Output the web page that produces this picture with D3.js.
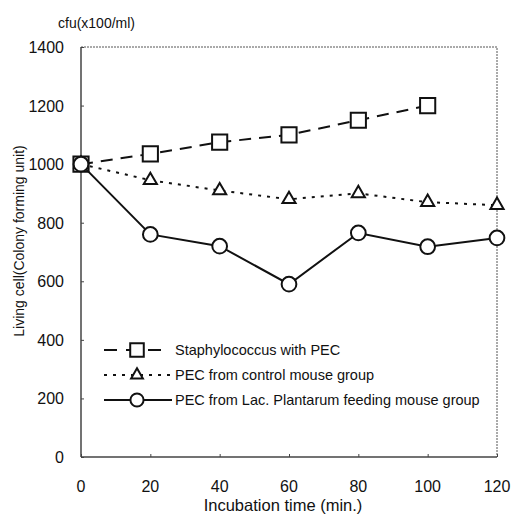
<!DOCTYPE html>
<html>
<head>
<meta charset="utf-8">
<script src="https://cdn.jsdelivr.net/npm/d3@7"></script>
<style>
  body { margin: 0; background: #fff; }
  text { font-family: "Liberation Sans", Arial, sans-serif; fill: #111; }
</style>
</head>
<body>
<div id="chart"></div>
<script>
const times = [0, 20, 40, 60, 80, 100, 120];
const staph = [1000, 1035, 1075, 1100, 1150, 1200];
const control = [1000, 945, 910, 880, 900, 870, 860];
const plantarum = [1000, 760, 720, 590, 765, 718, 748];
const yTicks = [0, 200, 400, 600, 800, 1000, 1200, 1400];
const seriesNames = [
  "Staphylococcus with PEC",
  "PEC from control mouse group",
  "PEC from Lac. Plantarum feeding mouse group"
];

const width = 513;
const height = 516;
const margin = { top: 47, right: 16, bottom: 59, left: 81 };

const svg = d3
  .select("#chart")
  .append("svg")
  .attr("width", width)
  .attr("height", height);

const x = d3.scaleLinear().domain([0, 120]).range([margin.left, width - margin.right]);
const y = d3.scaleLinear().domain([0, 1400]).range([height - margin.bottom, margin.top]);

// frame: solid left/bottom, dotted top/right
svg.append("line")
  .attr("x1", x(0)).attr("x2", x(0)).attr("y1", y(0)).attr("y2", y(1400))
  .attr("stroke", "#444").attr("stroke-width", 1.5);
svg.append("line")
  .attr("x1", x(0)).attr("x2", x(120)).attr("y1", y(0)).attr("y2", y(0))
  .attr("stroke", "#444").attr("stroke-width", 1.5);
svg.append("path")
  .attr("d", `M${x(0)},${y(1400)}H${x(120)}V${y(0)}`)
  .attr("fill", "none").attr("stroke", "#555").attr("stroke-width", 1)
  .attr("stroke-dasharray", "2,1");

// axes
const yAxis = svg.append("g")
  .attr("transform", `translate(${x(0)},0)`)
  .call(d3.axisRight(y).tickValues(yTicks).tickSize(3).tickFormat(""));
yAxis.select(".domain").remove();
yAxis.selectAll("line").attr("stroke", "#444");

svg.append("g")
  .selectAll("text")
  .data(yTicks)
  .join("text")
  .attr("x", x(0) - 17)
  .attr("y", d => y(d) + 6)
  .attr("text-anchor", "end")
  .attr("font-size", 16)
  .text(d => d);

const xAxis = svg.append("g")
  .attr("transform", `translate(0,${y(0)})`)
  .call(d3.axisTop(x).tickValues(times).tickSize(3).tickFormat(""));
xAxis.select(".domain").remove();
xAxis.selectAll("line").attr("stroke", "#444");

svg.append("g")
  .selectAll("text")
  .data(times)
  .join("text")
  .attr("x", d => x(d))
  .attr("y", y(0) + 35)
  .attr("text-anchor", "middle")
  .attr("font-size", 16)
  .text(d => d);

svg.append("text")
  .attr("x", 283)
  .attr("y", 511)
  .attr("text-anchor", "middle")
  .attr("font-size", 16.5)
  .text("Incubation time (min.)");

svg.append("text")
  .attr("transform", "translate(24,241) rotate(-90)")
  .attr("text-anchor", "middle")
  .attr("font-size", 14)
  .text("Living cell(Colony forming unit)");

svg.append("text")
  .attr("x", 58)
  .attr("y", 28)
  .attr("font-size", 14)
  .text("cfu(x100/ml)");

// series
const series = [
  { name: seriesNames[0], values: staph, dash: "12,8", symbol: d3.symbolSquare, size: 230 },
  { name: seriesNames[1], values: control, dash: "3,6", symbol: d3.symbolTriangle, size: 75 },
  { name: seriesNames[2], values: plantarum, dash: null, symbol: d3.symbolCircle, size: 170 }
];

const line = d3.line().x((d, i) => x(times[i])).y(d => y(d));

series.forEach(s => {
  svg.append("path")
    .datum(s.values)
    .attr("d", line)
    .attr("fill", "none")
    .attr("stroke", "#111")
    .attr("stroke-width", 2)
    .attr("stroke-dasharray", s.dash);
  svg.append("g")
    .selectAll("path")
    .data(s.values)
    .join("path")
    .attr("transform", (d, i) => `translate(${x(times[i])},${y(d)})`)
    .attr("d", d3.symbol(s.symbol, s.size))
    .attr("fill", "#fff")
    .attr("stroke", "#111")
    .attr("stroke-width", 2);
});

// legend
const legend = svg.append("g").attr("transform", "translate(104,350)");
series.forEach((s, i) => {
  const row = legend.append("g").attr("transform", `translate(0,${i * 25})`);
  row.append("line")
    .attr("x1", 0).attr("x2", i === 0 ? 60 : 68).attr("y1", 0).attr("y2", 0)
    .attr("stroke", "#111").attr("stroke-width", 2)
    .attr("stroke-dasharray", i === 0 ? "13,9" : s.dash);
  row.append("path")
    .attr("transform", "translate(33,0)")
    .attr("d", d3.symbol(s.symbol, s.size * 0.8))
    .attr("fill", "#fff").attr("stroke", "#111").attr("stroke-width", 2);
  row.append("text")
    .attr("x", 71)
    .attr("y", 5)
    .attr("font-size", 14.5)
    .text(s.name);
});
</script>
</body>
</html>
